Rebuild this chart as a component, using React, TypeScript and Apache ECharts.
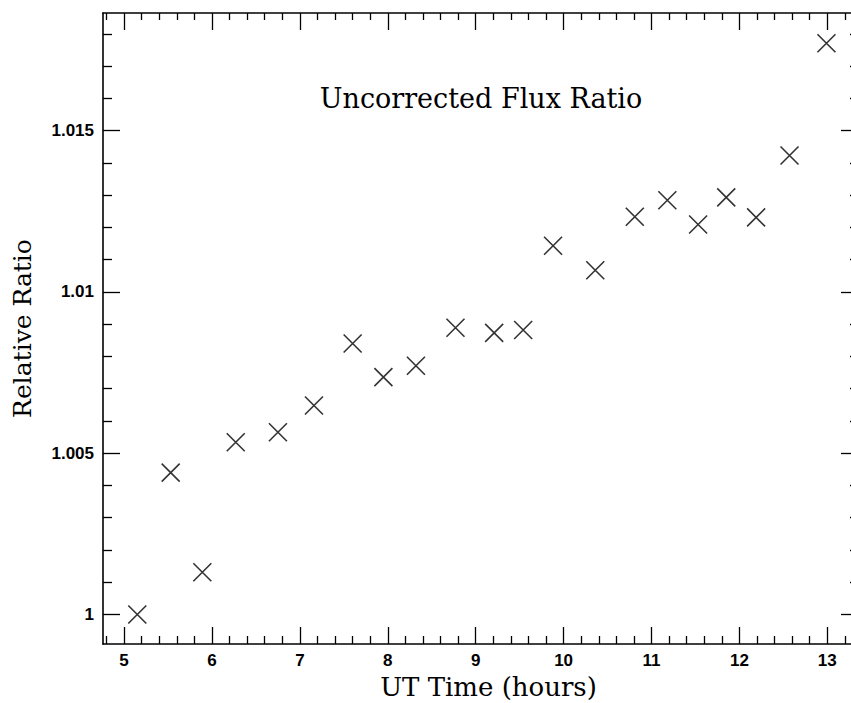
import React, { useEffect, useRef } from 'react';
import * as echarts from 'echarts';

// Data
const utTime = [5.15, 5.53, 5.89, 6.27, 6.75, 7.16, 7.6, 7.95, 8.32, 8.77, 9.21, 9.54, 9.88, 10.36, 10.81, 11.18, 11.53, 11.85, 12.19, 12.57, 12.99];
const relativeRatio = [1.0, 1.0044, 1.00131, 1.00534, 1.00565, 1.00648, 1.0084, 1.00736, 1.00771, 1.00889, 1.00873, 1.00882, 1.01143, 1.01067, 1.01233, 1.01284, 1.01209, 1.01293, 1.01231, 1.01423, 1.01771];

// Tick values
const xMajorTicks = [5, 6, 7, 8, 9, 10, 11, 12, 13];
const xMinorTicks = [4.8, 5.2, 5.4, 5.6, 5.8, 6.2, 6.4, 6.6, 6.8, 7.2, 7.4, 7.6, 7.8, 8.2, 8.4, 8.6, 8.8, 9.2, 9.4, 9.6, 9.8, 10.2, 10.4, 10.6, 10.8, 11.2, 11.4, 11.6, 11.8, 12.2, 12.4, 12.6, 12.8, 13.2];
const yMajorTicks = [1, 1.005, 1.01, 1.015];
const yMinorTicks = [1.001, 1.002, 1.003, 1.004, 1.006, 1.007, 1.008, 1.009, 1.011, 1.012, 1.013, 1.014, 1.016, 1.017, 1.018];

const titleText = 'Uncorrected Flux Ratio';
const xTitle = 'UT Time (hours)';
const yTitle = 'Relative Ratio';

const X_MIN = 4.76;
const X_MAX = 13.349;
const Y_MIN = 0.999086;
const Y_MAX = 1.018646;

const SERIF = '"DejaVu Serif", serif';
const LABEL_FONT = '"Liberation Sans", sans-serif';

function makeAxis(kind: 'x' | 'y', position: string, ticks: number[], len: number, withLabels: boolean, withLine: boolean, extra: any = {}) {
  return {
    type: 'value',
    gridIndex: 0,
    position,
    min: kind === 'x' ? X_MIN : Y_MIN,
    max: kind === 'x' ? X_MAX : Y_MAX,
    axisLine: { show: withLine, onZero: false, lineStyle: { color: '#000', width: 1.6 } },
    axisTick: { show: true, inside: true, length: len, customValues: ticks, lineStyle: { color: '#000', width: 1.3 } },
    axisLabel: withLabels
      ? {
          show: true,
          customValues: ticks,
          color: '#000',
          fontFamily: LABEL_FONT,
          fontSize: 17,
          fontWeight: 'bold',
          margin: kind === 'x' ? 8 : 9,
          formatter: (v: number) => String(v),
        }
      : { show: false },
    splitLine: { show: false },
    minorTick: { show: false },
    ...extra,
  };
}

export default function App() {
  const ref = useRef<HTMLDivElement>(null);
  useEffect(() => {
    if (!ref.current) return;
    const chart = echarts.init(ref.current, null, { renderer: 'svg' });
    const option: any = {
      animation: false,
      backgroundColor: '#fff',
      title: {
        text: titleText,
        left: 476,
        top: 80,
        textAlign: 'center',
        textStyle: { fontFamily: SERIF, fontSize: 27, fontWeight: 'normal', color: '#000' },
      },
      grid: { left: 103, top: 13, width: 755, height: 631, containLabel: false, outerBoundsMode: 'none' },
      xAxis: [
        makeAxis('x', 'bottom', xMajorTicks, 17, true, true, {
          name: xTitle,
          nameLocation: 'middle',
          nameGap: 30,
          nameTextStyle: { fontFamily: SERIF, fontSize: 26, color: '#000', padding: [0, 0, 0, 16] },
        }),
        makeAxis('x', 'bottom', xMinorTicks, 8, false, false),
        makeAxis('x', 'top', xMajorTicks, 17, false, true),
        makeAxis('x', 'top', xMinorTicks, 7, false, false),
      ],
      yAxis: [
        makeAxis('y', 'left', yMajorTicks, 17, true, true, {
          name: yTitle,
          nameLocation: 'middle',
          nameGap: 68,
          nameRotate: 90,
          nameTextStyle: { fontFamily: SERIF, fontSize: 25, color: '#000' },
        }),
        makeAxis('y', 'left', yMinorTicks, 9, false, false),
        makeAxis('y', 'right', yMajorTicks, 17, false, true),
        makeAxis('y', 'right', yMinorTicks, 8, false, false),
      ],
      series: [
        {
          type: 'scatter',
          xAxisIndex: 0,
          yAxisIndex: 0,
          data: utTime.map((t, i) => [t, relativeRatio[i]]),
          symbol: 'path://M0 0L18 18M18 0L0 18',
          symbolSize: 18,
          itemStyle: { color: 'rgba(0,0,0,0)', borderColor: '#000', borderWidth: 1.6 },
          emphasis: { disabled: true },
        },
      ],
    };
    chart.setOption(option);
    return () => chart.dispose();
  }, []);
  return (
    <div style={{ position: 'absolute', left: 0, top: 0, width: 851, height: 703, overflow: 'hidden', background: '#fff' }}>
      <div ref={ref} style={{ width: 870, height: 703 }} />
    </div>
  );
}
